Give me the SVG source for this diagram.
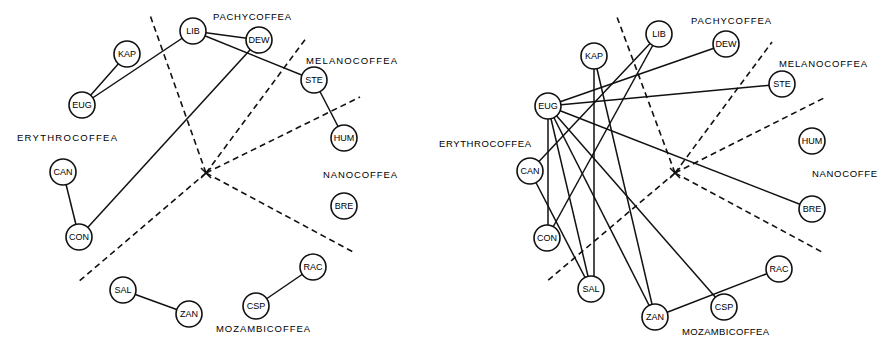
<svg xmlns="http://www.w3.org/2000/svg" width="877" height="337" viewBox="0 0 877 337">
<style>
.bg{fill:#fff}
.e{stroke:#111;stroke-width:1.5;fill:none}
.d{stroke:#111;stroke-width:1.6;fill:none;stroke-dasharray:6,4}
.n circle{fill:#fff;stroke:#111;stroke-width:1.6}
.n text{font-family:"Liberation Sans",Arial,sans-serif;font-size:9px;fill:#000;text-anchor:middle;dominant-baseline:central}
.lb{font-family:"Liberation Sans",Arial,sans-serif;font-size:9.5px;fill:#000}
</style>
<rect class="bg" width="877" height="337"/>
<g id="sectors">
<path class="d" d="M206,173 L150,15 M206,173 L307,37 M206,173 L360,97 M206,173 L355,253 M206,173 L77,283"/>
<path class="e" d="M201,168 L211,178 M201,178 L211,168"/>
<path class="d" d="M675,173 L617,17 M675,173 L772,42 M675,173 L826,97 M675,173 L822,252 M675,173 L546,282"/>
<path class="e" d="M670,168 L680,178 M670,178 L680,168"/>
</g>
<g id="connectors">
<line class="e" x1="193" y1="31" x2="259" y2="40"/>
<line class="e" x1="193" y1="31" x2="314" y2="80"/>
<line class="e" x1="193" y1="31" x2="82" y2="105"/>
<line class="e" x1="127" y1="54" x2="82" y2="105"/>
<line class="e" x1="259" y1="40" x2="79" y2="237"/>
<line class="e" x1="314" y1="80" x2="344" y2="138"/>
<line class="e" x1="63" y1="172" x2="79" y2="237"/>
<line class="e" x1="123" y1="290" x2="189" y2="314"/>
<line class="e" x1="256" y1="306" x2="313" y2="267"/>
<line class="e" x1="659" y1="34" x2="530" y2="171"/>
<line class="e" x1="659" y1="34" x2="547" y2="238"/>
<line class="e" x1="548" y1="106" x2="726" y2="44"/>
<line class="e" x1="548" y1="106" x2="782" y2="84"/>
<line class="e" x1="548" y1="106" x2="812" y2="209"/>
<line class="e" x1="548" y1="106" x2="548" y2="238"/>
<line class="e" x1="548" y1="106" x2="591" y2="289"/>
<line class="e" x1="548" y1="106" x2="655" y2="317"/>
<line class="e" x1="548" y1="106" x2="724" y2="307"/>
<line class="e" x1="594" y1="56" x2="594" y2="289"/>
<line class="e" x1="594" y1="56" x2="655" y2="317"/>
<line class="e" x1="530" y1="171" x2="591" y2="289"/>
<line class="e" x1="655" y1="317" x2="779" y2="269"/>
</g>
<g id="L-LIB" class="n"><circle cx="193" cy="31" r="13"/><text x="193" y="31">LIB</text></g>
<g id="L-KAP" class="n"><circle cx="127" cy="54" r="13"/><text x="127" y="54">KAP</text></g>
<g id="L-EUG" class="n"><circle cx="82" cy="105" r="13"/><text x="82" y="105">EUG</text></g>
<g id="L-DEW" class="n"><circle cx="259" cy="40" r="13"/><text x="259" y="40">DEW</text></g>
<g id="L-STE" class="n"><circle cx="314" cy="80" r="13"/><text x="314" y="80">STE</text></g>
<g id="L-HUM" class="n"><circle cx="344" cy="138" r="13"/><text x="344" y="138">HUM</text></g>
<g id="L-CAN" class="n"><circle cx="63" cy="172" r="13"/><text x="63" y="172">CAN</text></g>
<g id="L-CON" class="n"><circle cx="79" cy="237" r="13"/><text x="79" y="237">CON</text></g>
<g id="L-SAL" class="n"><circle cx="123" cy="290" r="13"/><text x="123" y="290">SAL</text></g>
<g id="L-ZAN" class="n"><circle cx="189" cy="314" r="13"/><text x="189" y="314">ZAN</text></g>
<g id="L-BRE" class="n"><circle cx="344" cy="206" r="13"/><text x="344" y="206">BRE</text></g>
<g id="L-RAC" class="n"><circle cx="313" cy="267" r="13"/><text x="313" y="267">RAC</text></g>
<g id="L-CSP" class="n"><circle cx="256" cy="306" r="13"/><text x="256" y="306">CSP</text></g>
<g id="R-LIB" class="n"><circle cx="659" cy="34" r="13"/><text x="659" y="34">LIB</text></g>
<g id="R-KAP" class="n"><circle cx="594" cy="56" r="13"/><text x="594" y="56">KAP</text></g>
<g id="R-EUG" class="n"><circle cx="548" cy="106" r="13"/><text x="548" y="106">EUG</text></g>
<g id="R-DEW" class="n"><circle cx="726" cy="44" r="13"/><text x="726" y="44">DEW</text></g>
<g id="R-STE" class="n"><circle cx="782" cy="84" r="13"/><text x="782" y="84">STE</text></g>
<g id="R-HUM" class="n"><circle cx="812" cy="141" r="13"/><text x="812" y="141">HUM</text></g>
<g id="R-CAN" class="n"><circle cx="530" cy="171" r="13"/><text x="530" y="171">CAN</text></g>
<g id="R-CON" class="n"><circle cx="547" cy="238" r="13"/><text x="547" y="238">CON</text></g>
<g id="R-SAL" class="n"><circle cx="591" cy="289" r="13"/><text x="591" y="289">SAL</text></g>
<g id="R-ZAN" class="n"><circle cx="655" cy="317" r="13"/><text x="655" y="317">ZAN</text></g>
<g id="R-BRE" class="n"><circle cx="812" cy="209" r="13"/><text x="812" y="209">BRE</text></g>
<g id="R-RAC" class="n"><circle cx="779" cy="269" r="13"/><text x="779" y="269">RAC</text></g>
<g id="R-CSP" class="n"><circle cx="724" cy="307" r="13"/><text x="724" y="307">CSP</text></g>
<g id="labels">
<text class="lb" x="213" y="20" textLength="78" lengthAdjust="spacing">PACHYCOFFEA</text>
<text class="lb" x="306" y="64" textLength="91" lengthAdjust="spacing">MELANOCOFFEA</text>
<text class="lb" x="17" y="141" textLength="100" lengthAdjust="spacing">ERYTHROCOFFEA</text>
<text class="lb" x="323" y="178" textLength="74" lengthAdjust="spacing">NANOCOFFEA</text>
<text class="lb" x="216" y="332" textLength="94" lengthAdjust="spacing">MOZAMBICOFFEA</text>
<text class="lb" x="691" y="24" textLength="80" lengthAdjust="spacing">PACHYCOFFEA</text>
<text class="lb" x="779" y="67" textLength="88" lengthAdjust="spacing">MELANOCOFFEA</text>
<text class="lb" x="439" y="147" textLength="92" lengthAdjust="spacing">ERYTHROCOFFEA</text>
<text class="lb" x="812" y="177" textLength="65" lengthAdjust="spacing">NANOCOFFE</text>
<text class="lb" x="682" y="335" textLength="87" lengthAdjust="spacing">MOZAMBICOFFEA</text>
</g>
</svg>
